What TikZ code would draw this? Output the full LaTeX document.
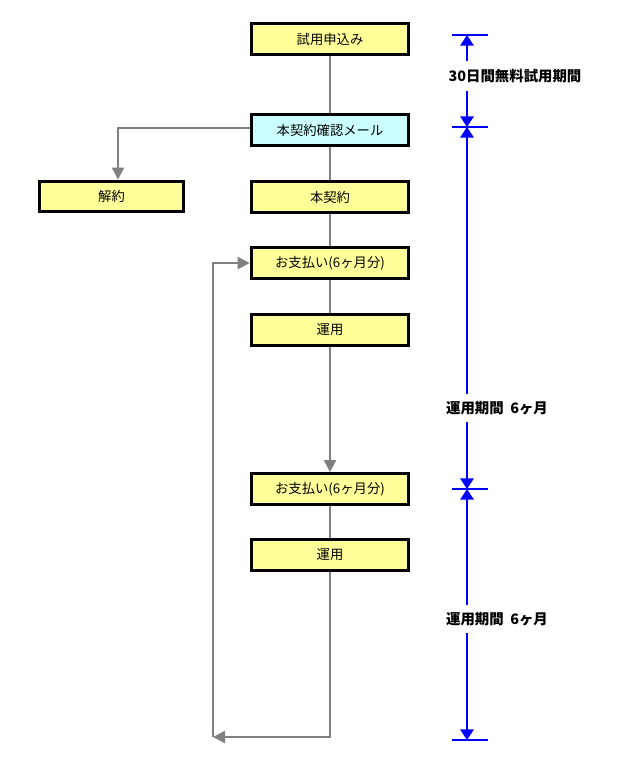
\documentclass[tikz,border=0pt]{standalone}
\usepackage{fontspec}
\setmainfont{Noto Sans CJK JP}
\usetikzlibrary{arrows.meta}

\tikzset{every picture/.style={line width=0.75pt}}
\tikzset{
  stepbox/.style={draw=black, line width=2.4pt, fill={rgb,255:red,255;green,255;blue,153},
    minimum width=118pt, minimum height=23pt, inner sep=0pt, font=\fontsize{10}{12}\selectfont},
  mailbox/.style={stepbox, fill={rgb,255:red,204;green,255;blue,255}},
  link/.style={draw={rgb,255:red,128;green,128;blue,128}, line width=1.6pt},
  linktip/.style={link, -{Triangle[length=9pt,width=9pt]}},
  dimline/.style={draw=blue, line width=1.8pt, -{Triangle[length=8pt,width=10pt]}},
  dimtick/.style={draw=blue, line width=1.8pt},
  dimlabel/.style={font=\fontsize{10.8}{13}\selectfont\bfseries, inner sep=1pt}
}

\begin{document}
\begin{tikzpicture}[x=0.75pt,y=0.75pt,yscale=-1,xscale=1]
	\useasboundingbox (0,0) rectangle (634,765);

	% Boxes
	\node[stepbox] (apply) at (330,39) {試用申込み};
	\node[mailbox] (confirm) at (330,130) {本契約確認メール};
	\node[stepbox, minimum width=108pt] (cancel) at (111.5,196.5) {解約};
	\node[stepbox] (contract) at (330,197) {本契約};
	\node[stepbox] (payA) at (330,263) {お支払い(6ヶ月分)};
	\node[stepbox] (useA) at (330,330) {運用};
	\node[stepbox] (payB) at (330,489) {お支払い(6ヶ月分)};
	\node[stepbox] (useB) at (330,555) {運用};
	\coordinate (bend) at (118,128);
	\coordinate (back) at (213,737);

	% Connectors
	\draw[link] (apply) -- (confirm);
	\draw[linktip] (confirm.west |- bend) -- (bend) -- (bend |- cancel.north);
	\draw[link] (confirm) -- (contract);
	\draw[link] (contract) -- (payA);
	\draw[link] (payA) -- (useA);
	\draw[linktip] (useA) -- (payB);
	\draw[link] (payB) -- (useB);
	\draw[linktip] (useB.south) |- (back);
	\draw[linktip] (back) |- (payA.west);

	% Periods
	\coordinate (t0) at (467,35);
	\coordinate (t1) at (467,127);
	\coordinate (t2) at (467,489);
	\coordinate (t3) at (467,740);
	\node[dimlabel] (trial) at (515,76) {30日間無料試用期間};
	\node[dimlabel] (runA) at (497,408) {運用期間\ \ 6ヶ月};
	\node[dimlabel] (runB) at (497,619) {運用期間\ \ 6ヶ月};
	\draw[dimtick] (452,35) -- (488,35);
	\draw[dimtick] (452,127) -- (488,127);
	\draw[dimtick] (452,489) -- (488,489);
	\draw[dimtick] (452,740) -- (488,740);
	\draw[dimline] (467,61) -- (t0);
	\draw[dimline] (467,91) -- (t1);
	\draw[dimline] (467,394) -- (t1);
	\draw[dimline] (467,422) -- (t2);
	\draw[dimline] (467,605) -- (t2);
	\draw[dimline] (467,633) -- (t3);

\end{tikzpicture}
\end{document}
